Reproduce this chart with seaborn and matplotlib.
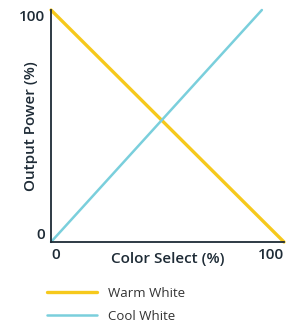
import numpy as np
import pandas as pd
import matplotlib
matplotlib.use("Agg")
import matplotlib.pyplot as plt
import seaborn as sns

# DATA
warm_x = [0, 100]
warm_y = [100, 0]
cool_x = [0, 90.5]
cool_y = [0, 100]
series_names = ["Warm White", "Cool White"]
tick_labels = ["0", "100"]

TEXT = "#1e2b36"
palette = {"Warm White": "#F6C91C", "Cool White": "#7ACFDC"}
widths = {"Warm White": 2.4, "Cool White": 1.8}

df = pd.concat([
    pd.DataFrame({"x": warm_x, "y": warm_y, "series": series_names[0]}),
    pd.DataFrame({"x": cool_x, "y": cool_y, "series": series_names[1]}),
])

sns.set_style("white")
plt.rcParams["font.family"] = ["Open Sans", "DejaVu Sans"]

fig = plt.figure(figsize=(2.92, 3.27), dpi=100)
ax = fig.add_axes([51 / 292, 1 - 242 / 327, 233 / 292, 232 / 327])

sns.lineplot(data=df, x="x", y="y", hue="series", palette=palette,
             hue_order=series_names, ax=ax, legend=True)
for line, name in zip(ax.get_lines(), series_names):
    line.set_linewidth(widths[name])
    line.set_clip_on(False)

ax.set_xlim(0, 100)
ax.set_ylim(0, 100)
for side in ["top", "right"]:
    ax.spines[side].set_visible(False)
for side in ["left", "bottom"]:
    ax.spines[side].set_color(TEXT)
    ax.spines[side].set_linewidth(1.3)

ax.set_xticks([0, 100])
ax.set_xticklabels(tick_labels)
ax.set_yticks([0, 100])
ax.set_yticklabels(tick_labels)
ax.tick_params(length=0, labelsize=11, colors=TEXT, pad=4)
for t in ax.get_xticklabels() + ax.get_yticklabels():
    t.set_fontweight("semibold")
xt = ax.get_xticklabels()
xt[0].set_ha("left")
xt[1].set_ha("right")
yt = ax.get_yticklabels()
yt[0].set_va("bottom")
yt[1].set_va("top")

ax.set_xlabel("Color Select (%)", fontsize=11, color=TEXT, fontweight="semibold")
ax.xaxis.set_label_coords(0.5, -0.045)
ax.set_ylabel("Output Power (%)", fontsize=11, color=TEXT, fontweight="semibold")
ax.yaxis.set_label_coords(-0.055, 0.5)

handles, labels = ax.get_legend_handles_labels()
for h, name in zip(handles, labels):
    h.set_linewidth(widths.get(name, 2))
ax.legend(handles, labels, loc="upper left", bbox_to_anchor=(35 / 292, 1 - 275 / 327),
          bbox_transform=fig.transFigure, frameon=False, fontsize=9.5,
          handlelength=3.8, handletextpad=0.8, labelspacing=0.75,
          labelcolor="#333333")

fig.savefig("out.png", dpi=100)
